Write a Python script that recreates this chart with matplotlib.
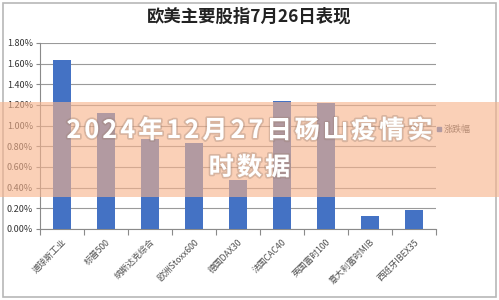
import matplotlib.pyplot as plt
import matplotlib.patheffects as pe
from matplotlib.patches import Rectangle
from matplotlib.ticker import FuncFormatter, MultipleLocator

plt.rcParams['font.family'] = ['Noto Sans CJK SC', 'DejaVu Sans']

indices = ['道琼斯工业', '标普500', '纳斯达克综合', '欧洲Stoxx600', '德国DAX30',
           '法国CAC40', '英国富时100', '意大利富时MIB', '西班牙IBEX35']
changes = [1.64, 1.12, 0.87, 0.83, 0.47, 1.24, 1.22, 0.13, 0.18]
title = '欧美主要股指7月26日表现'
legend_label = '涨跌幅'
banner_lines = ['2024年12月27日砀山疫情实', '时数据']

W, H = 499, 300
BLUE = '#4472C4'

fig = plt.figure(figsize=(W / 100, H / 100), dpi=100)
fig.patch.set_facecolor('white')

# chart frame
fig.add_artist(Rectangle((3 / W, 3 / H), 493 / W, 294 / H, transform=fig.transFigure,
                         fill=False, edgecolor='#b8b8b8', lw=1.2, zorder=1))

ax = fig.add_axes([40 / W, 1 - 229 / H, 396 / W, 186 / H])
x = range(len(indices))
ax.bar(x, changes, width=0.4, color=BLUE, zorder=3)

ax.set_xlim(-0.5, len(indices) - 0.5)
ax.set_ylim(0, 1.8)
ax.yaxis.set_major_locator(MultipleLocator(0.2))
ax.yaxis.set_major_formatter(FuncFormatter(lambda v, _: f'{v:.2f}%'))
ax.grid(axis='y', color='#9a9a9a', lw=0.8, zorder=0)
for s in ['top', 'right']:
    ax.spines[s].set_visible(False)
for s in ['left', 'bottom']:
    ax.spines[s].set_color('#8a8a8a')
    ax.spines[s].set_linewidth(0.8)

ax.set_xticks([i + 0.5 for i in range(-1, len(indices))], minor=False)
ax.set_xticklabels([])
ax.set_xticks(list(x), minor=True)
ax.set_xticklabels(indices, minor=True, rotation=45, ha='right', va='top',
                   rotation_mode='anchor', fontsize=6.3, color='#505050')
ax.tick_params(axis='x', which='minor', length=0, pad=6)
ax.tick_params(axis='x', which='major', length=4, color='#8a8a8a')
ax.tick_params(axis='y', length=3, color='#8a8a8a', labelsize=6.5,
               labelcolor='#333333', pad=2)

fig.text(0.5, 1 - 17 / H, title, ha='center', va='center', fontsize=12.5,
         fontweight='bold', color='#222222')

# legend
fig.add_artist(Rectangle((437 / W, 1 - 131 / H), 4 / W, 4 / H, transform=fig.transFigure,
                         color=BLUE, zorder=2))
fig.text(444 / W, 1 - 129 / H, legend_label, ha='left', va='center', fontsize=6.5,
         color='#505050')

# translucent banner
fig.add_artist(Rectangle((0, 1 - 197 / H), 1, 95 / H, transform=fig.transFigure,
                         facecolor=(0.97, 0.70, 0.55), alpha=0.62, lw=0, zorder=5))

renderer = fig.canvas.get_renderer()
shadow = [pe.withStroke(linewidth=2.5, foreground=(0.6, 0.5, 0.45, 0.35))]


def spaced_line(text, y_px, size, gap):
    items = []
    for ch in text:
        t = fig.text(0, 1 - y_px / H, ch, ha='left', va='center', fontsize=size,
                     fontweight='bold', color='white', zorder=6, path_effects=shadow)
        items.append((t, t.get_window_extent(renderer).width))
    total = sum(w for _, w in items) + gap * (len(items) - 1)
    left = (W - total) / 2
    for t, w in items:
        t.set_x(left / W)
        left += w + gap


spaced_line(banner_lines[0], 131, 18, 3.2)
spaced_line(banner_lines[1], 168, 18, 3.2)

fig.savefig('out.png', dpi=100)
